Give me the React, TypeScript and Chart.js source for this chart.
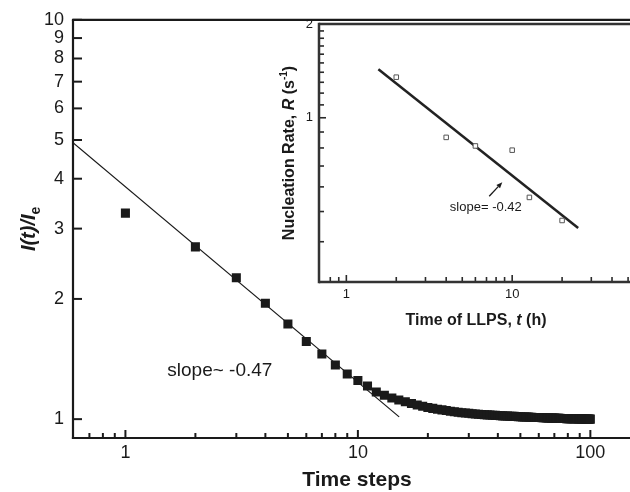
import React, { useEffect, useRef } from "react";
import { Chart, registerables } from "chart.js";
Chart.register(...registerables);

const FONT = '"Liberation Sans", Arial, Helvetica, sans-serif';
const INK = "#1a1a1a";

// ---------- main chart data ----------
const TIME_STEPS = [
  1, 2, 3, 4, 5, 6, 7, 8, 9, 10, 11, 12, 13, 14, 15, 16, 17, 18, 19, 20,
  21, 22, 23, 24, 25, 26, 27, 28, 29, 30, 31, 32, 33, 34, 35, 36, 37, 38, 39, 40,
  41, 42, 43, 44, 45, 46, 47, 48, 49, 50, 51, 52, 53, 54, 55, 56, 57, 58, 59, 60,
  61, 62, 63, 64, 65, 66, 67, 68, 69, 70, 71, 72, 73, 74, 75, 76, 77, 78, 79, 80,
  81, 82, 83, 84, 85, 86, 87, 88, 89, 90, 91, 92, 93, 94, 95, 96, 97, 98, 99, 100,
];
const INTENSITY = [
  3.28, 2.7, 2.26, 1.95, 1.73, 1.565, 1.456, 1.367, 1.298, 1.25,
  1.21, 1.169, 1.148, 1.13, 1.117, 1.105, 1.095, 1.085, 1.077, 1.07,
  1.064, 1.059, 1.055, 1.051, 1.047, 1.044, 1.041, 1.038, 1.036, 1.034,
  1.032, 1.03, 1.029, 1.027, 1.026, 1.025, 1.024, 1.023, 1.022, 1.021,
  1.02, 1.019, 1.018, 1.018, 1.017, 1.016, 1.016, 1.015, 1.014, 1.014,
  1.013, 1.013, 1.012, 1.012, 1.011, 1.011, 1.01, 1.01, 1.01, 1.009,
  1.009, 1.008, 1.008, 1.008, 1.007, 1.007, 1.007, 1.006, 1.006, 1.006,
  1.005, 1.005, 1.005, 1.005, 1.004, 1.004, 1.004, 1.004, 1.003, 1.003,
  1.003, 1.003, 1.003, 1.002, 1.002, 1.002, 1.002, 1.002, 1.001, 1.001,
  1.001, 1.001, 1.001, 1.001, 1.0, 1.0, 1.0, 1.0, 1.0, 1.0,
];
const FIT_T = [0.595, 15.05];
const FIT_I = [4.92, 1.013];
const MAIN_X_TICKS = [0.7, 0.8, 0.9, 1, 2, 3, 4, 5, 6, 7, 8, 9, 10, 20, 30, 40, 50, 60, 70, 80, 90, 100];
const MAIN_X_LABELS = [1, 10, 100];
const MAIN_Y_TICKS = [1, 2, 3, 4, 5, 6, 7, 8, 9, 10];
const MAIN_Y_LABELS = [1, 2, 3, 4, 5, 6, 7, 8, 9, 10];
const MAIN_SLOPE_TEXT = "slope~ -0.47";
const MAIN_SLOPE_POS = [1.514, 1.286];

// ---------- inset chart data ----------
const LLPS_TIME = [2, 4, 6, 10, 12.7, 20];
const NUCLEATION_RATE = [1.35, 0.865, 0.812, 0.787, 0.555, 0.468];
const INSET_FIT_T = [1.56, 25.0];
const INSET_FIT_R = [1.432, 0.443];
const INSET_X_TICKS = [0.8, 0.9, 1, 2, 3, 4, 5, 6, 7, 8, 9, 10, 20, 30, 40, 50];
const INSET_X_LABELS = [1, 10];
const INSET_Y_TICKS = [0.4, 0.5, 0.6, 0.7, 0.8, 0.9, 1, 1.1, 1.2, 1.3, 1.4, 1.5, 1.6, 1.7, 1.8, 1.9, 2];
const INSET_Y_LABELS = [1, 2];
const INSET_SLOPE_TEXT = "slope= -0.42";
const INSET_SLOPE_POS = [4.21, 0.5015];
const INSET_ARROW_FROM = [7.27, 0.56];
const INSET_ARROW_TO = [8.72, 0.621];

type Run = { text: string; font: string; dy?: number };

function drawRuns(ctx: CanvasRenderingContext2D, runs: Run[], x: number, y: number, rotate: boolean) {
  ctx.save();
  ctx.translate(x, y);
  if (rotate) ctx.rotate(-Math.PI / 2);
  ctx.fillStyle = INK;
  ctx.textAlign = "left";
  ctx.textBaseline = "alphabetic";
  let total = 0;
  for (const r of runs) {
    ctx.font = r.font;
    total += ctx.measureText(r.text).width;
  }
  let cx = -total / 2;
  for (const r of runs) {
    ctx.font = r.font;
    ctx.fillText(r.text, cx, r.dy || 0);
    cx += ctx.measureText(r.text).width;
  }
  ctx.restore();
}

function isPow10(v: number) {
  const l = Math.log10(v);
  return Math.abs(l - Math.round(l)) < 1e-6;
}

function line(ctx: CanvasRenderingContext2D, x1: number, y1: number, x2: number, y2: number) {
  ctx.beginPath();
  ctx.moveTo(x1, y1);
  ctx.lineTo(x2, y2);
  ctx.stroke();
}

const mainDecor = {
  id: "mainDecor",
  afterDraw(chart: any) {
    const ctx: CanvasRenderingContext2D = chart.ctx;
    const a = chart.chartArea;
    const xs = chart.scales.x;
    const ys = chart.scales.y;
    ctx.save();
    ctx.strokeStyle = INK;
    ctx.lineCap = "butt";
    ctx.lineWidth = 2;
    for (const t of xs.ticks) {
      const px = xs.getPixelForValue(t.value);
      const len = isPow10(t.value) ? 8 : 5;
      line(ctx, px, a.bottom, px, a.bottom - len);
    }
    for (const t of ys.ticks) {
      const py = ys.getPixelForValue(t.value);
      line(ctx, a.left, py, a.left + 9, py);
    }
    ctx.lineWidth = 2.2;
    line(ctx, a.left, a.top, a.left, a.bottom + 1.1);
    line(ctx, a.left - 1.1, a.bottom, a.right, a.bottom);
    line(ctx, a.left - 1.1, a.top, a.right, a.top);
    line(ctx, a.right, a.top, a.right, a.bottom);
    ctx.fillStyle = INK;
    ctx.font = `19px ${FONT}`;
    ctx.textAlign = "left";
    ctx.textBaseline = "alphabetic";
    ctx.fillText(MAIN_SLOPE_TEXT, xs.getPixelForValue(MAIN_SLOPE_POS[0]), ys.getPixelForValue(MAIN_SLOPE_POS[1]));
    ctx.restore();
    drawRuns(ctx, [{ text: "Time steps", font: `bold 21px ${FONT}` }], 357, 486, false);
    drawRuns(
      ctx,
      [
        { text: "I(t)/I", font: `italic bold 20px ${FONT}` },
        { text: "e", font: `bold 14px ${FONT}`, dy: 5 },
      ],
      35,
      (a.top + a.bottom) / 2,
      true
    );
  },
};

const insetDecor = {
  id: "insetDecor",
  beforeDraw(chart: any) {
    const ctx: CanvasRenderingContext2D = chart.ctx;
    const a = chart.chartArea;
    ctx.save();
    ctx.fillStyle = "#ffffff";
    ctx.fillRect(a.left, a.top, a.right - a.left, a.bottom - a.top);
    ctx.restore();
  },
  afterDraw(chart: any) {
    const ctx: CanvasRenderingContext2D = chart.ctx;
    const a = chart.chartArea;
    const xs = chart.scales.x;
    const ys = chart.scales.y;
    ctx.save();
    ctx.strokeStyle = "#2a2a2a";
    ctx.lineWidth = 1.6;
    for (const t of xs.ticks) {
      const px = xs.getPixelForValue(t.value);
      const len = isPow10(t.value) ? 7 : 5;
      line(ctx, px, a.bottom, px, a.bottom - len);
    }
    for (const t of ys.ticks) {
      const py = ys.getPixelForValue(t.value);
      const len = isPow10(t.value) ? 7 : 5;
      line(ctx, a.left, py, a.left + len, py);
    }
    ctx.strokeStyle = "#333333";
    ctx.lineWidth = 2.5;
    line(ctx, a.left, a.top - 1.2, a.left, a.bottom + 1.2);
    line(ctx, a.left, a.bottom, a.right, a.bottom);
    line(ctx, a.left, a.top, a.right, a.top);
    const x1 = xs.getPixelForValue(INSET_ARROW_FROM[0]);
    const y1 = ys.getPixelForValue(INSET_ARROW_FROM[1]);
    const x2 = xs.getPixelForValue(INSET_ARROW_TO[0]);
    const y2 = ys.getPixelForValue(INSET_ARROW_TO[1]);
    ctx.strokeStyle = INK;
    ctx.fillStyle = INK;
    ctx.lineWidth = 1.3;
    const ang = Math.atan2(y2 - y1, x2 - x1);
    const hl = 6;
    const bx = x2 - hl * Math.cos(ang);
    const by = y2 - hl * Math.sin(ang);
    line(ctx, x1, y1, bx, by);
    ctx.beginPath();
    ctx.moveTo(x2, y2);
    ctx.lineTo(bx + 2.5 * Math.sin(ang), by - 2.5 * Math.cos(ang));
    ctx.lineTo(bx - 2.5 * Math.sin(ang), by + 2.5 * Math.cos(ang));
    ctx.closePath();
    ctx.fill();
    ctx.font = `13px ${FONT}`;
    ctx.textAlign = "left";
    ctx.textBaseline = "alphabetic";
    ctx.fillText(INSET_SLOPE_TEXT, xs.getPixelForValue(INSET_SLOPE_POS[0]), ys.getPixelForValue(INSET_SLOPE_POS[1]));
    ctx.restore();
    drawRuns(
      ctx,
      [
        { text: "Time of LLPS, ", font: `bold 16px ${FONT}` },
        { text: "t", font: `italic bold 16px ${FONT}` },
        { text: " (h)", font: `bold 16px ${FONT}` },
      ],
      226,
      325,
      false
    );
    drawRuns(
      ctx,
      [
        { text: "Nucleation Rate, ", font: `bold 16px ${FONT}` },
        { text: "R", font: `italic bold 16px ${FONT}` },
        { text: " (s", font: `bold 16px ${FONT}` },
        { text: "-1", font: `bold 10px ${FONT}`, dy: -7 },
        { text: ")", font: `bold 16px ${FONT}` },
      ],
      44,
      (a.top + a.bottom) / 2,
      true
    );
  },
};

function logAxis(opts: {
  min: number;
  max: number;
  ticks: number[];
  labels: number[];
  size: number;
  padding: number;
  fitW?: number;
  fitH?: number;
}) {
  return {
    type: "logarithmic" as const,
    min: opts.min,
    max: opts.max,
    grid: { display: false, drawTicks: false, drawOnChartArea: false },
    border: { display: false },
    afterBuildTicks: (scale: any) => {
      scale.ticks = opts.ticks.map((v) => ({ value: v }));
    },
    afterFit: (scale: any) => {
      if (opts.fitW !== undefined) scale.width = opts.fitW;
      if (opts.fitH !== undefined) scale.height = opts.fitH;
    },
    ticks: {
      autoSkip: false,
      maxRotation: 0,
      minRotation: 0,
      padding: opts.padding,
      color: INK,
      font: { family: FONT, size: opts.size },
      callback: (v: any) => (opts.labels.some((l) => Math.abs(l - Number(v)) < 1e-9) ? String(v) : ""),
    },
  };
}

export default function App() {
  const mainRef = useRef<HTMLCanvasElement | null>(null);
  const insetRef = useRef<HTMLCanvasElement | null>(null);

  useEffect(() => {
    if (!mainRef.current || !insetRef.current) return;
    const main = new Chart(mainRef.current, {
      type: "scatter",
      data: {
        datasets: [
          {
            data: TIME_STEPS.map((t, i) => ({ x: t, y: INTENSITY[i] })),
            pointStyle: "rect",
            pointRadius: 6.4,
            pointBorderWidth: 0,
            backgroundColor: INK,
            borderColor: INK,
            order: 1,
          },
          {
            data: FIT_T.map((t, i) => ({ x: t, y: FIT_I[i] })),
            showLine: true,
            pointRadius: 0,
            borderColor: INK,
            borderWidth: 1.2,
            order: 2,
          },
        ],
      },
      options: {
        responsive: false,
        animation: false,
        events: [],
        layout: { padding: { top: 16, left: 0, right: 0, bottom: 0 } },
        plugins: { legend: { display: false }, tooltip: { enabled: false } },
        scales: {
          x: logAxis({ min: 0.595, max: 155, ticks: MAIN_X_TICKS, labels: MAIN_X_LABELS, size: 18, padding: 4, fitH: 54 }),
          y: logAxis({ min: 0.897, max: 10, ticks: MAIN_Y_TICKS, labels: MAIN_Y_LABELS, size: 18, padding: 9, fitW: 73 }),
        },
      },
      plugins: [mainDecor],
    } as any);

    const inset = new Chart(insetRef.current, {
      type: "scatter",
      data: {
        datasets: [
          {
            data: LLPS_TIME.map((t, i) => ({ x: t, y: NUCLEATION_RATE[i] })),
            pointStyle: "rect",
            pointRadius: 3.2,
            pointBorderWidth: 1,
            backgroundColor: "#ffffff",
            borderColor: "#555555",
            order: 1,
          },
          {
            data: INSET_FIT_T.map((t, i) => ({ x: t, y: INSET_FIT_R[i] })),
            showLine: true,
            pointRadius: 0,
            borderColor: "#222222",
            borderWidth: 2.5,
            order: 2,
          },
        ],
      },
      options: {
        responsive: false,
        animation: false,
        events: [],
        layout: { padding: { top: 24, left: 0, right: 0, bottom: 0 } },
        plugins: { legend: { display: false }, tooltip: { enabled: false } },
        scales: {
          x: logAxis({ min: 0.684, max: 59, ticks: INSET_X_TICKS, labels: INSET_X_LABELS, size: 13, padding: 5, fitH: 58 }),
          y: logAxis({ min: 0.297, max: 2, ticks: INSET_Y_TICKS, labels: INSET_Y_LABELS, size: 13, padding: 6, fitW: 69 }),
        },
      },
      plugins: [insetDecor],
    } as any);

    return () => {
      main.destroy();
      inset.destroy();
    };
  }, []);

  return (
    <div
      style={{
        position: "fixed",
        left: 0,
        top: 0,
        width: 630,
        height: 492,
        overflow: "hidden",
        background: "#ffffff",
      }}
    >
      <canvas
        ref={mainRef}
        width={641}
        height={492}
        style={{ position: "absolute", left: 0, top: 0, width: 641, height: 492 }}
      />
      <canvas
        ref={insetRef}
        width={395}
        height={340}
        style={{ position: "absolute", left: 250, top: 0, width: 395, height: 340 }}
      />
    </div>
  );
}
